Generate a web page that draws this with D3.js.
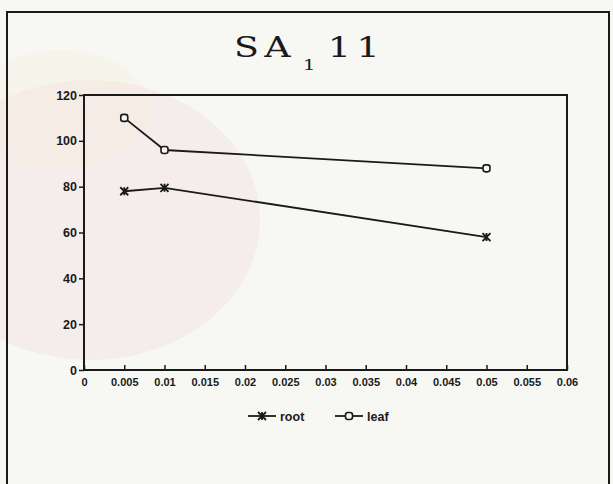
<!DOCTYPE html>
<html>
<head>
<meta charset="utf-8">
<script src="https://cdn.jsdelivr.net/npm/d3@7"></script>
<style>
  body { margin: 0; background: #f7f7f4; }
  svg { display: block; }
</style>
</head>
<body>
<script>
const width = 613;
const height = 484;

// data
const concentrations = [0.005, 0.01, 0.05];
const rootValues = [78, 79.5, 58];
const leafValues = [110, 96, 88];
const xTicks = [0, 0.005, 0.01, 0.015, 0.02, 0.025, 0.03, 0.035, 0.04, 0.045, 0.05, 0.055, 0.06];
const xTickLabels = ["0", "0.005", "0.01", "0.015", "0.02", "0.025", "0.03", "0.035", "0.04", "0.045", "0.05", "0.055", "0.06"];
const yTicks = [0, 20, 40, 60, 80, 100, 120];
const seriesNames = ["root", "leaf"];

const svg = d3.select("body").append("svg")
  .attr("width", width)
  .attr("height", height);

// faint watermark tones from the scan
svg.append("ellipse")
  .attr("cx", 90).attr("cy", 220)
  .attr("rx", 170).attr("ry", 140)
  .attr("fill", "#f2d6dc").attr("opacity", 0.35);
svg.append("ellipse")
  .attr("cx", 60).attr("cy", 110)
  .attr("rx", 90).attr("ry", 60)
  .attr("fill", "#f3ead0").attr("opacity", 0.25);

// outer frame
svg.append("rect")
  .attr("x", 7).attr("y", 12)
  .attr("width", 602).attr("height", 520)
  .attr("fill", "none")
  .attr("stroke", "#1a1a1a")
  .attr("stroke-width", 2);

// title SA1 11, wide plotter-style lettering
const title = svg.append("text")
  .attr("transform", "translate(234,57) scale(1.35,1)")
  .attr("font-family", "'DejaVu Serif', serif")
  .attr("font-size", 27)
  .attr("fill", "#1a1a1a")
  .attr("letter-spacing", 4);
title.append("tspan").text("SA");
title.append("tspan").attr("dy", 13).attr("dx", 5).attr("font-size", 15).text("1");
title.append("tspan").attr("dy", -13).attr("dx", 5).text("11");

const x = d3.scaleLinear().domain([0, 0.06]).range([84, 567]);
const y = d3.scaleLinear().domain([0, 120]).range([370, 95]);

// plot box
svg.append("rect")
  .attr("x", x(0)).attr("y", y(120))
  .attr("width", x(0.06) - x(0)).attr("height", y(0) - y(120))
  .attr("fill", "none")
  .attr("stroke", "#1a1a1a")
  .attr("stroke-width", 2);

const xAxis = svg.append("g")
  .attr("transform", `translate(0,${y(0)})`)
  .call(d3.axisBottom(x)
    .tickValues(xTicks)
    .tickFormat((d, i) => xTickLabels[i])
    .tickSizeInner(-5)
    .tickSizeOuter(0)
    .tickPadding(8));

const yAxis = svg.append("g")
  .attr("transform", `translate(${x(0)},0)`)
  .call(d3.axisLeft(y)
    .tickValues(yTicks)
    .tickSize(5)
    .tickPadding(2));

[xAxis, yAxis].forEach(g => {
  g.select(".domain").remove();
  g.selectAll("line").attr("stroke", "#1a1a1a").attr("stroke-width", 1.5);
  g.selectAll("text")
    .attr("font-family", "'Liberation Sans', Arial, sans-serif")
    .attr("font-weight", "bold")
    .attr("fill", "#1a1a1a");
});
xAxis.selectAll("text").attr("font-size", 11);
yAxis.selectAll("text").attr("font-size", 12.5);

const line = d3.line()
  .x(d => x(d[0]))
  .y(d => y(d[1]));

const rootData = concentrations.map((c, i) => [c, rootValues[i]]);
const leafData = concentrations.map((c, i) => [c, leafValues[i]]);

[rootData, leafData].forEach(data => {
  svg.append("path")
    .datum(data)
    .attr("d", line)
    .attr("fill", "none")
    .attr("stroke", "#1a1a1a")
    .attr("stroke-width", 1.8);
});

function starMarker(g, cx, cy) {
  const r = 4;
  g.append("path")
    .attr("d", `M${cx - r},${cy - r}L${cx + r},${cy + r}M${cx - r},${cy + r}L${cx + r},${cy - r}M${cx},${cy - r}L${cx},${cy + r}`)
    .attr("stroke", "#1a1a1a")
    .attr("stroke-width", 1.8)
    .attr("fill", "none");
}

function squareMarker(g, cx, cy) {
  g.append("rect")
    .attr("x", cx - 3.5).attr("y", cy - 3.5)
    .attr("width", 7).attr("height", 7)
    .attr("rx", 2.5)
    .attr("fill", "#f7f7f4")
    .attr("stroke", "#1a1a1a")
    .attr("stroke-width", 1.6);
}

const marks = svg.append("g");
rootData.forEach(d => starMarker(marks, x(d[0]), y(d[1])));
leafData.forEach(d => squareMarker(marks, x(d[0]), y(d[1])));

// legend
const legendY = 416;
const legendItems = [
  { name: seriesNames[0], x0: 248, marker: starMarker },
  { name: seriesNames[1], x0: 335, marker: squareMarker }
];
legendItems.forEach(item => {
  svg.append("line")
    .attr("x1", item.x0).attr("x2", item.x0 + 28)
    .attr("y1", legendY).attr("y2", legendY)
    .attr("stroke", "#1a1a1a")
    .attr("stroke-width", 1.8);
  item.marker(svg, item.x0 + 14, legendY);
  svg.append("text")
    .attr("x", item.x0 + 32).attr("y", legendY + 5)
    .attr("font-family", "'Liberation Sans', Arial, sans-serif")
    .attr("font-size", 12.5)
    .attr("font-weight", "bold")
    .attr("fill", "#1a1a1a")
    .text(item.name);
});
</script>
</body>
</html>
